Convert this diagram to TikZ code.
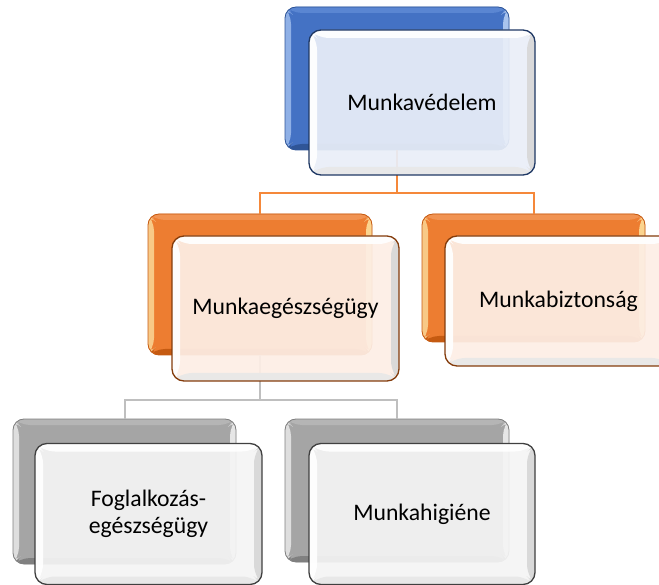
\documentclass[tikz,border=0pt]{standalone}
\usepackage{fontspec}
\setmainfont{Carlito}
\usetikzlibrary{calc}
\definecolor{bface}{HTML}{4472C4}
\definecolor{bleft}{HTML}{8FB0E6}
\definecolor{btop}{HTML}{5A86D2}
\definecolor{bright}{HTML}{A9C4EE}
\definecolor{bbot}{HTML}{2F5597}
\definecolor{bline}{HTML}{2F5597}
\definecolor{oface}{HTML}{ED7D31}
\definecolor{oleft}{HTML}{F8C987}
\definecolor{otop}{HTML}{F19352}
\definecolor{oright}{HTML}{FBD48F}
\definecolor{obot}{HTML}{C55A11}
\definecolor{oline}{HTML}{C55A11}
\definecolor{gface}{HTML}{A5A5A5}
\definecolor{gleft}{HTML}{DEDEDE}
\definecolor{gtop}{HTML}{B5B5B5}
\definecolor{gright}{HTML}{E6E6E6}
\definecolor{gbot}{HTML}{808080}
\definecolor{gline}{HTML}{7F7F7F}
\definecolor{fblue}{HTML}{E9EEF8}
\definecolor{forange}{HTML}{FDEEE5}
\definecolor{fgray}{HTML}{F4F4F4}
\definecolor{fbline}{HTML}{1F3864}
\definecolor{foline}{HTML}{843C0C}
\definecolor{fgline}{HTML}{404040}
\definecolor{conor}{HTML}{F5883A}
\definecolor{congr}{HTML}{BFBFBF}
\definecolor{fbevR}{HTML}{D8D8D8}
\definecolor{fbevB}{HTML}{E8E8E8}
\tikzset{
  bevel/.style n args={5}{path picture={
    \path (path picture bounding box.north west) coordinate (bvnw)
          (path picture bounding box.north east) coordinate (bvne)
          (path picture bounding box.south west) coordinate (bvsw)
          (path picture bounding box.south east) coordinate (bvse);
    \fill[#1] (bvnw) -- (bvsw) -- ([shift={(#5,#5)}]bvsw) -- ([shift={(#5,-#5)}]bvnw) -- cycle;
    \fill[#2] (bvnw) -- (bvne) -- ([shift={(-#5,-#5)}]bvne) -- ([shift={(#5,-#5)}]bvnw) -- cycle;
    \fill[#3] (bvne) -- (bvse) -- ([shift={(-#5,#5)}]bvse) -- ([shift={(-#5,-#5)}]bvne) -- cycle;
    \fill[#4] (bvsw) -- (bvse) -- ([shift={(-#5,#5)}]bvse) -- ([shift={(#5,#5)}]bvsw) -- cycle;
  }},
  backbox/.style={rectangle, rounded corners=11pt, inner sep=0pt, line width=0.8pt},
  frontbox/.style={rectangle, rounded corners=12pt, inner sep=4pt, line width=1.3pt,
    fill opacity=0.93, text opacity=1, align=center,
    font=\fontsize{23.7}{27.5}\selectfont, text=black},
  bblue/.style={backbox, fill=bface, draw=bline, bevel={bleft}{btop}{bright}{bbot}{6pt}},
  borange/.style={backbox, fill=oface, draw=oline, bevel={oleft}{otop}{oright}{obot}{6pt}},
  bgray/.style={backbox, fill=gface, draw=gline, bevel={gleft}{gtop}{gright}{gbot}{6pt}},
  fblue/.style={frontbox, fill=fblue, draw=fbline, bevel={white}{white}{fbevR}{fbevB}{8pt}},
  forange/.style={frontbox, fill=forange, draw=foline, bevel={white}{white}{fbevR}{fbevB}{8pt}},
  fgray/.style={frontbox, fill=fgray, draw=fgline, bevel={white}{white}{fbevR}{fbevB}{8pt}},
  orline/.style={draw=conor, line width=2pt},
  grline/.style={draw=congr, line width=2pt}
}
\begin{document}
\begin{tikzpicture}[x=1pt,y=-1pt]
\clip (0,0) rectangle (659,585);
% back boxes
\node[bblue, minimum width=224pt, minimum height=143pt] (tb) at (397,78.5) {};
\node[borange, minimum width=224pt, minimum height=141pt] (mlb) at (260,284.5) {};
\node[borange, minimum width=223pt, minimum height=128pt] (mrb) at (533.5,278) {};
\node[bgray, minimum width=223pt, minimum height=145pt] (blb) at (124.5,491.5) {};
\node[bgray, minimum width=224pt, minimum height=143pt] (brb) at (397,490.5) {};
% connectors
\coordinate (j1) at (397,193);
\coordinate (j2) at (260,400);
\draw[orline] (tb.south) -- (j1);
\draw[orline] (mlb.north) |- (j1) -| (mrb.north);
\draw[grline] (mlb.south) -- (j2);
\draw[grline] (blb.north) |- (j2) -| (brb.north);
% front boxes
\node[fblue, minimum width=226pt, minimum height=145pt] (tf) at (422,102.5) {Munkavédelem};
\node[forange, minimum width=227pt, minimum height=145pt] (mlf) at (285.5,308.5) {Munkaegészségügy};
\node[forange, minimum width=227pt, minimum height=130pt] (mrf) at (558.5,301) {Munkabiztonság};
\node[fgray, minimum width=227pt, minimum height=141pt] (blf) at (148.5,514) {Foglalkozás-\\egészségügy};
\node[fgray, minimum width=226pt, minimum height=141pt] (brf) at (422,514) {Munkahigiéne};
\end{tikzpicture}
\end{document}
